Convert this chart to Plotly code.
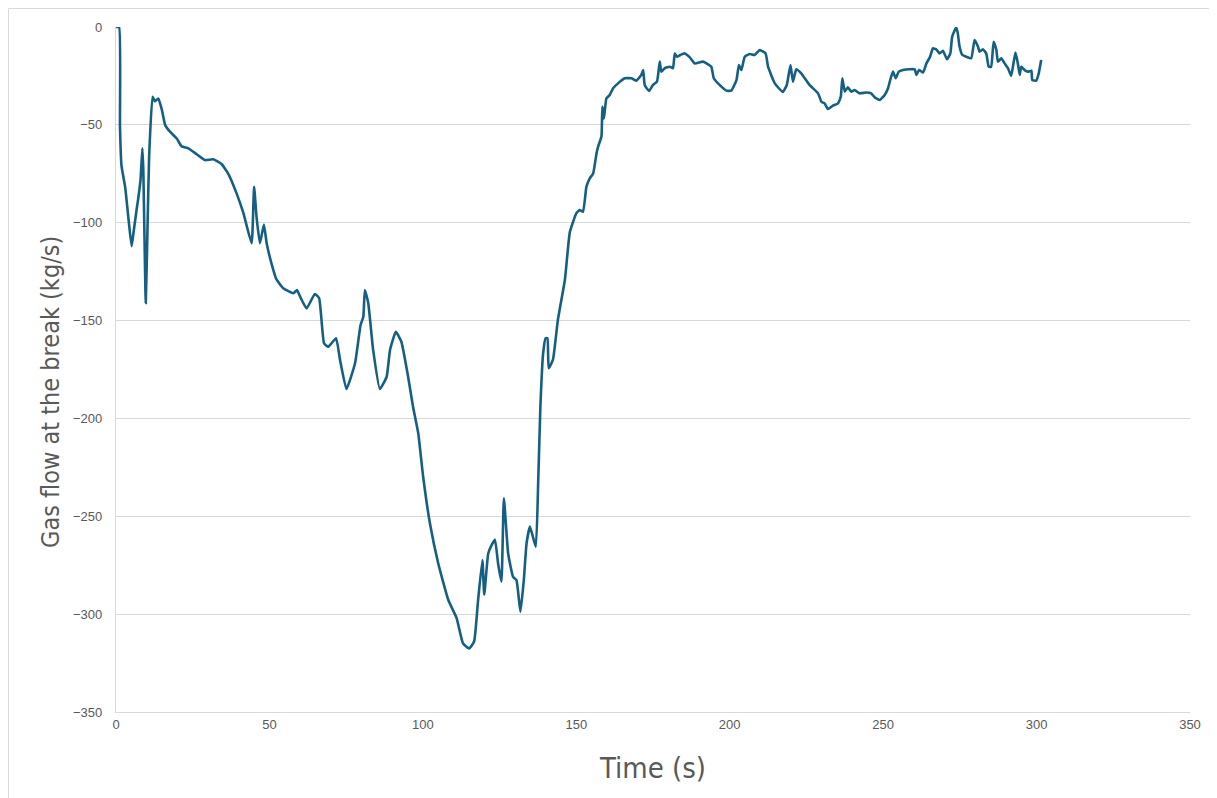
import plotly.graph_objects as go

time_s = [0, 1.0, 1.3, 1.8, 3.0, 4.2, 5.1, 5.8, 6.7, 7.3, 8.0, 8.6, 8.9, 9.7, 10.3, 10.8, 11.9, 12.7, 13.8, 14.9, 16.0, 17.6, 19.8, 21.4,
          23.6, 26.3, 29.0, 31.7, 34.4, 36.6, 39.3, 41.5, 44.2, 45.0, 45.8, 46.9, 48.2, 49.1, 50.7, 52.3, 54.5, 57.8,
          59.0, 60.0, 62.1, 64.8, 66.2, 67.8, 69.2, 71.7, 73.0, 75.1, 77.9, 79.7, 80.6, 81.1, 82.2, 83.8, 86.0, 88.2,
          89.3, 91.2, 93.0, 95.2, 96.8, 98.5, 100.1, 102.3, 105.0, 108.3, 111.0, 113.1, 115.1, 116.7, 118.0, 119.4,
          120.0, 121.3, 122.4, 123.5, 124.5, 125.6, 126.4, 127.8, 129.4, 130.5, 131.8, 132.9, 133.8, 134.9, 136.8,
          137.6, 138.3, 139.2, 140.0, 140.6, 141.0, 142.4, 144.0, 146.3, 147.9, 150.0, 151.1, 152.2, 153.3, 154.4,
          155.5, 156.6, 157.1, 158.2, 158.5, 159.0, 159.8, 160.9, 162.0, 163.6, 165.8, 168.0, 169.6, 171.2, 171.8,
          172.3, 173.7, 175.0, 176.3, 177.2, 177.7, 178.8, 180.5, 181.5, 182.1, 182.8, 183.9, 185.3, 187.0, 188.6,
          191.3, 194.0, 194.8, 196.7, 198.9, 200.5, 202.2, 203.0, 203.8, 204.9, 206.5, 208.1, 209.8, 211.7, 212.5,
          214.7, 217.3, 218.6, 219.8, 220.6, 221.7, 223.3, 226.0, 228.8, 229.9, 230.9, 232.0, 233.6, 235.3, 236.2,
          236.7, 237.5, 238.5, 239.6, 240.7, 242.3, 244.5, 246.1, 247.2, 248.9, 250.5, 251.6, 252.3, 253.2, 254.1,
          255.1, 256.5, 258.6, 260.3, 260.8, 261.7, 263.0, 264.1, 265.3, 266.2, 267.3, 268.4, 269.5, 270.8, 271.9,
          272.5, 273.8, 274.3, 274.9, 275.8, 277.1, 278.7, 279.8, 280.9, 281.4, 282.5, 283.6, 284.4, 285.2, 286.0,
          286.9, 287.4, 288.5, 289.6, 290.7, 291.7, 292.3, 293.1, 293.9, 294.5, 295.0, 296.1, 297.2, 298.3, 298.6,
          299.9, 300.7, 301.5]

gas_flow = [0, 0, -51, -71, -82, -100, -112, -104, -93.5, -87, -78, -62, -73, -141, -100, -66, -35.6, -38, -36.5, -42, -50, -53.5, -57, -61,
            -62, -65, -68, -67.6, -70, -75, -85, -95, -110.5, -81.6, -97, -110.5, -101, -110.5, -121, -129, -133.5, -136,
            -134.4, -137.8, -143.8, -136.4, -138.6, -161.6, -163.4, -159, -170, -185, -171.8, -152.3, -148, -134.4, -141, -165, -185, -178.7,
            -165, -155.7, -160.8, -178.7, -194, -207.6, -229.8, -253.6, -274, -292.8, -302, -315, -317.5, -314, -292.8, -272.4,
            -290, -269, -264.7, -262, -274, -283.4, -240.8, -269, -281, -282.6, -298.8, -282.6, -263.8, -255.3, -265.6,
            -231.5, -194, -166.7, -159, -159, -174.4, -170, -149.7, -129, -104.8, -95.2, -93.5, -94.4, -81.6, -77.3,
            -74.8, -64.5, -61.2, -56, -40.7, -46.7, -36.5, -34.7, -31.3, -28.8, -26.2, -26.2, -27.4, -24.5, -22,
            -29.6, -32.7, -29.6, -27.9, -17.7, -22.8, -21.1, -20.3, -21.1, -13.5, -15.2, -14.3, -13.5, -15.5, -18.6,
            -17.7, -20.3, -26.2, -29.6, -32.5, -32.5, -27.1, -19.4, -22, -15.2, -13.8, -14.3, -11.8, -13.5, -20.3,
            -28.8, -33.2, -29.6, -19.4, -27.9, -21.6, -23.7, -29.6, -33.9, -38.2, -39, -41.9, -40.2, -39, -35.6,
            -26.2, -33, -30.8, -33, -32.2, -33.9, -33.5, -33.9, -35.9, -37.3, -34.7, -31.3, -27.1, -22.8, -26.2,
            -22.8, -22, -21.6, -21.6, -24.5, -22, -23.3, -18.6, -15.2, -10.9, -11.4, -13.5, -12.1, -16.5, -13.5,
            -4.9, -0.2, -2.9, -10, -14.3, -15.2, -16, -6.6, -10, -12.6, -11.4, -13.5, -20.3, -20.3, -7.5,
            -11.8, -17.7, -16, -18.6, -21.1, -25, -20.3, -13.1, -18.6, -24.5, -20.3, -22, -22.8, -22.3, -27.1,
            -27.4, -23.7, -16.9]

x_ticks = [0, 50, 100, 150, 200, 250, 300, 350]
y_ticks = [0, -50, -100, -150, -200, -250, -300, -350]

x_title = "Time (s)"
y_title = "Gas flow at the break (kg/s)"

narrow = "DejaVu Sans Condensed, sans-serif"
tickfam = "Liberation Sans, Arial, sans-serif"

W, H = 1209, 790
L, R, T, B = 108, 27, 19, 86
pw, ph = W - L - R, H - T - B

fig = go.Figure()
fig.add_trace(go.Scatter(
    x=time_s, y=gas_flow, mode="lines",
    line=dict(color="#156082", width=2.6, shape="spline", smoothing=0.4),
    showlegend=False, hoverinfo="x+y"))

fig.update_layout(
    width=W, height=H,
    margin=dict(l=L, r=R, t=T, b=B),
    paper_bgcolor="white", plot_bgcolor="white",
    font=dict(family=narrow, color="#595959"),
    xaxis=dict(range=[0, 350], tickvals=x_ticks, showgrid=False, zeroline=False,
               showline=True, linecolor="#d9d9d9", linewidth=1.3,
               ticks="", tickfont=dict(family=tickfam, size=13, color="#595959"),
               title=dict(text=x_title, font=dict(size=29, color="#595959"), standoff=26)),
    yaxis=dict(range=[-350, 0], tickvals=y_ticks, showgrid=True, gridcolor="#d9d9d9", gridwidth=1,
               zeroline=False, showline=True, linecolor="#d9d9d9", linewidth=1.3,
               ticks="", tickfont=dict(family=tickfam, size=13, color="#595959"), ticklabelstandoff=10),
    annotations=[dict(text=y_title, textangle=-90, showarrow=False,
                      xref="paper", yref="paper",
                      x=(42 - L) / pw, y=(704 - 384) / ph,
                      xanchor="center", yanchor="middle",
                      font=dict(family=narrow, size=25, color="#595959"))],
    shapes=[dict(type="rect", xref="paper", yref="paper",
                 x0=-(L - 0.5) / pw, x1=1 + 200 / pw, y0=-300 / ph, y1=1 + (T - 0.5) / ph,
                 line=dict(color="#d9d9d9", width=1), fillcolor="rgba(0,0,0,0)", layer="below")],
)

fig.write_html("out.html")
